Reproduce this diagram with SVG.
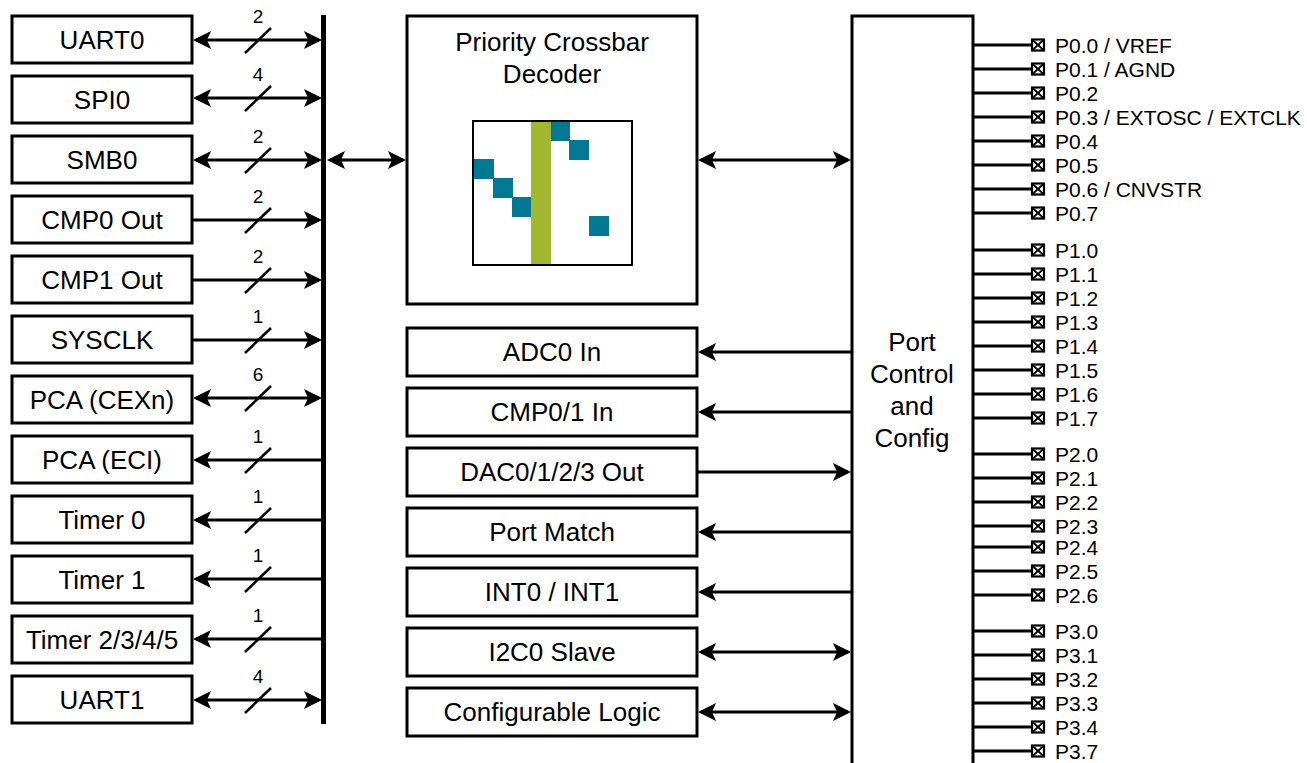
<svg xmlns="http://www.w3.org/2000/svg" width="1307" height="763" viewBox="0 0 1307 763">
<style>
.box{fill:#fff;stroke:#000;stroke-width:3}
.t{font-family:"Liberation Sans",Arial,sans-serif;font-size:26px;fill:#000;text-anchor:middle}
.n{font-family:"Liberation Sans",Arial,sans-serif;font-size:19px;fill:#000;text-anchor:middle}
.p{font-family:"Liberation Sans",Arial,sans-serif;font-size:21px;fill:#000}
.w{stroke:#000;stroke-width:3;fill:none}
.s{stroke:#000;stroke-width:2.5;fill:none}
.pin{fill:#fff;stroke:#000;stroke-width:2.2}
.px{stroke:#000;stroke-width:1.8}
.teal{fill:#017995}
</style>
<defs>
<marker id="ah" viewBox="0 0 18 18" refX="15" refY="9" markerWidth="18" markerHeight="18" markerUnits="userSpaceOnUse" orient="auto-start-reverse">
<path d="M0,0 L18,9 L0,18 L4,9 Z" fill="#000"/>
</marker>
<g id="pinsym">
<rect class="pin" x="0" y="-5.5" width="12" height="11"/>
<line class="px" x1="0" y1="-5.5" x2="12" y2="5.5"/>
<line class="px" x1="0" y1="5.5" x2="12" y2="-5.5"/>
</g>
</defs>

<!-- left peripheral nodes -->
<g id="uart0"><rect class="box" x="12" y="16" width="180" height="47"/><text class="t" x="102" y="49">UART0</text></g>
<g id="spi0"><rect class="box" x="12" y="76" width="180" height="47"/><text class="t" x="102" y="109">SPI0</text></g>
<g id="smb0"><rect class="box" x="12" y="136" width="180" height="47"/><text class="t" x="102" y="169">SMB0</text></g>
<g id="cmp0out"><rect class="box" x="12" y="196" width="180" height="47"/><text class="t" x="102" y="229">CMP0 Out</text></g>
<g id="cmp1out"><rect class="box" x="12" y="256" width="180" height="47"/><text class="t" x="102" y="289">CMP1 Out</text></g>
<g id="sysclk"><rect class="box" x="12" y="316" width="180" height="47"/><text class="t" x="102" y="349">SYSCLK</text></g>
<g id="pcacex"><rect class="box" x="12" y="376" width="180" height="47"/><text class="t" x="102" y="409">PCA (CEXn)</text></g>
<g id="pcaeci"><rect class="box" x="12" y="436" width="180" height="47"/><text class="t" x="102" y="469">PCA (ECI)</text></g>
<g id="timer0"><rect class="box" x="12" y="496" width="180" height="47"/><text class="t" x="102" y="529">Timer 0</text></g>
<g id="timer1"><rect class="box" x="12" y="556" width="180" height="47"/><text class="t" x="102" y="589">Timer 1</text></g>
<g id="timer2345"><rect class="box" x="12" y="616" width="180" height="47"/><text class="t" x="102" y="649">Timer 2/3/4/5</text></g>
<g id="uart1"><rect class="box" x="12" y="676" width="180" height="47"/><text class="t" x="102" y="709">UART1</text></g>

<!-- bus -->
<g id="bus"><line x1="323.5" y1="15" x2="323.5" y2="724" stroke="#000" stroke-width="5"/></g>

<!-- crossbar decoder -->
<g id="crossbar">
<rect class="box" x="407" y="16" width="290" height="288"/>
<text class="t" x="552" y="51">Priority Crossbar</text>
<text class="t" x="552" y="83">Decoder</text>
<rect x="473" y="121" width="159" height="144" fill="#fff"/>
<rect x="531" y="121" width="20" height="144" fill="#A2B830"/>
<rect class="teal" x="551" y="121" width="19" height="20"/>
<rect class="teal" x="569" y="140" width="20" height="20"/>
<rect class="teal" x="473" y="159" width="21" height="20"/>
<rect class="teal" x="493" y="178" width="20" height="20"/>
<rect class="teal" x="512" y="197" width="19" height="20"/>
<rect class="teal" x="589" y="216" width="20" height="20"/>
<rect x="473" y="121" width="159" height="144" fill="none" stroke="#000" stroke-width="2"/>
</g>

<!-- middle nodes -->
<g id="adc0in"><rect class="box" x="407" y="328" width="290" height="48"/><text class="t" x="552" y="361">ADC0 In</text></g>
<g id="cmp01in"><rect class="box" x="407" y="388" width="290" height="48"/><text class="t" x="552" y="421">CMP0/1 In</text></g>
<g id="dacout"><rect class="box" x="407" y="448" width="290" height="48"/><text class="t" x="552" y="481">DAC0/1/2/3 Out</text></g>
<g id="portmatch"><rect class="box" x="407" y="508" width="290" height="48"/><text class="t" x="552" y="541">Port Match</text></g>
<g id="int01"><rect class="box" x="407" y="568" width="290" height="48"/><text class="t" x="552" y="601">INT0 / INT1</text></g>
<g id="i2c0"><rect class="box" x="407" y="628" width="290" height="48"/><text class="t" x="552" y="661">I2C0 Slave</text></g>
<g id="clu"><rect class="box" x="407" y="688" width="290" height="48"/><text class="t" x="552" y="721">Configurable Logic</text></g>

<!-- port control -->
<g id="portctrl">
<rect class="box" x="852" y="16" width="121" height="770"/>
<text class="t" x="912" y="351">Port</text>
<text class="t" x="912" y="383">Control</text>
<text class="t" x="912" y="415">and</text>
<text class="t" x="912" y="447">Config</text>
</g>

<!-- connectors -->
<g id="connectors">
<line class="w" x1="196" y1="40" x2="319" y2="40" marker-start="url(#ah)" marker-end="url(#ah)"/>
<line class="w" x1="196" y1="98" x2="319" y2="98" marker-start="url(#ah)" marker-end="url(#ah)"/>
<line class="w" x1="196" y1="160" x2="319" y2="160" marker-start="url(#ah)" marker-end="url(#ah)"/>
<line class="w" x1="192" y1="220" x2="319" y2="220" marker-end="url(#ah)"/>
<line class="w" x1="192" y1="280" x2="319" y2="280" marker-end="url(#ah)"/>
<line class="w" x1="192" y1="340" x2="319" y2="340" marker-end="url(#ah)"/>
<line class="w" x1="196" y1="398" x2="319" y2="398" marker-start="url(#ah)" marker-end="url(#ah)"/>
<line class="w" x1="196" y1="460" x2="322" y2="460" marker-start="url(#ah)"/>
<line class="w" x1="196" y1="520" x2="322" y2="520" marker-start="url(#ah)"/>
<line class="w" x1="196" y1="579" x2="322" y2="579" marker-start="url(#ah)"/>
<line class="w" x1="196" y1="639" x2="322" y2="639" marker-start="url(#ah)"/>
<line class="w" x1="196" y1="700" x2="319" y2="700" marker-start="url(#ah)" marker-end="url(#ah)"/>
<line class="s" x1="245" y1="53" x2="271" y2="28"/>
<line class="s" x1="245" y1="111" x2="271" y2="86"/>
<line class="s" x1="245" y1="173" x2="271" y2="148"/>
<line class="s" x1="245" y1="233" x2="271" y2="208"/>
<line class="s" x1="245" y1="293" x2="271" y2="268"/>
<line class="s" x1="245" y1="353" x2="271" y2="328"/>
<line class="s" x1="245" y1="411" x2="271" y2="386"/>
<line class="s" x1="245" y1="473" x2="271" y2="448"/>
<line class="s" x1="245" y1="533" x2="271" y2="508"/>
<line class="s" x1="245" y1="592" x2="271" y2="567"/>
<line class="s" x1="245" y1="652" x2="271" y2="627"/>
<line class="s" x1="245" y1="713" x2="271" y2="688"/>
<text class="n" x="258" y="23">2</text>
<text class="n" x="258" y="81">4</text>
<text class="n" x="258" y="143">2</text>
<text class="n" x="258" y="203">2</text>
<text class="n" x="258" y="263">2</text>
<text class="n" x="258" y="323">1</text>
<text class="n" x="258" y="381">6</text>
<text class="n" x="258" y="443">1</text>
<text class="n" x="258" y="503">1</text>
<text class="n" x="258" y="562">1</text>
<text class="n" x="258" y="622">1</text>
<text class="n" x="258" y="683">4</text>
<line class="w" x1="330" y1="160" x2="403" y2="160" marker-start="url(#ah)" marker-end="url(#ah)"/>
<line class="w" x1="701" y1="160" x2="848" y2="160" marker-start="url(#ah)" marker-end="url(#ah)"/>
<line class="w" x1="852" y1="352" x2="701" y2="352" marker-end="url(#ah)"/>
<line class="w" x1="852" y1="412" x2="701" y2="412" marker-end="url(#ah)"/>
<line class="w" x1="697" y1="472" x2="848" y2="472" marker-end="url(#ah)"/>
<line class="w" x1="852" y1="532" x2="701" y2="532" marker-end="url(#ah)"/>
<line class="w" x1="852" y1="592" x2="701" y2="592" marker-end="url(#ah)"/>
<line class="w" x1="701" y1="652" x2="848" y2="652" marker-start="url(#ah)" marker-end="url(#ah)"/>
<line class="w" x1="701" y1="712" x2="848" y2="712" marker-start="url(#ah)" marker-end="url(#ah)"/>
<path class="w" d="M973,45H1032M973,69H1032M973,93H1032M973,117H1032M973,141H1032M973,165H1032M973,189H1032M973,213H1032M973,250H1032M973,274H1032M973,298H1032M973,322H1032M973,346H1032M973,370H1032M973,394H1032M973,418H1032M973,454H1032M973,478H1032M973,502H1032M973,526H1032M973,547H1032M973,571H1032M973,595H1032M973,631H1032M973,655H1032M973,679H1032M973,703H1032M973,727H1032M973,751H1032"/>
</g>

<!-- pin nodes -->
<g id="pins">
<g id="p00"><use href="#pinsym" x="1032" y="45"/><text class="p" x="1055" y="53">P0.0 / VREF</text></g>
<g id="p01"><use href="#pinsym" x="1032" y="69"/><text class="p" x="1055" y="77">P0.1 / AGND</text></g>
<g id="p02"><use href="#pinsym" x="1032" y="93"/><text class="p" x="1055" y="101">P0.2</text></g>
<g id="p03"><use href="#pinsym" x="1032" y="117"/><text class="p" x="1055" y="125">P0.3 / EXTOSC / EXTCLK</text></g>
<g id="p04"><use href="#pinsym" x="1032" y="141"/><text class="p" x="1055" y="149">P0.4</text></g>
<g id="p05"><use href="#pinsym" x="1032" y="165"/><text class="p" x="1055" y="173">P0.5</text></g>
<g id="p06"><use href="#pinsym" x="1032" y="189"/><text class="p" x="1055" y="197">P0.6 / CNVSTR</text></g>
<g id="p07"><use href="#pinsym" x="1032" y="213"/><text class="p" x="1055" y="221">P0.7</text></g>
<g id="p10"><use href="#pinsym" x="1032" y="250"/><text class="p" x="1055" y="258">P1.0</text></g>
<g id="p11"><use href="#pinsym" x="1032" y="274"/><text class="p" x="1055" y="282">P1.1</text></g>
<g id="p12"><use href="#pinsym" x="1032" y="298"/><text class="p" x="1055" y="306">P1.2</text></g>
<g id="p13"><use href="#pinsym" x="1032" y="322"/><text class="p" x="1055" y="330">P1.3</text></g>
<g id="p14"><use href="#pinsym" x="1032" y="346"/><text class="p" x="1055" y="354">P1.4</text></g>
<g id="p15"><use href="#pinsym" x="1032" y="370"/><text class="p" x="1055" y="378">P1.5</text></g>
<g id="p16"><use href="#pinsym" x="1032" y="394"/><text class="p" x="1055" y="402">P1.6</text></g>
<g id="p17"><use href="#pinsym" x="1032" y="418"/><text class="p" x="1055" y="426">P1.7</text></g>
<g id="p20"><use href="#pinsym" x="1032" y="454"/><text class="p" x="1055" y="462">P2.0</text></g>
<g id="p21"><use href="#pinsym" x="1032" y="478"/><text class="p" x="1055" y="486">P2.1</text></g>
<g id="p22"><use href="#pinsym" x="1032" y="502"/><text class="p" x="1055" y="510">P2.2</text></g>
<g id="p23"><use href="#pinsym" x="1032" y="526"/><text class="p" x="1055" y="534">P2.3</text></g>
<g id="p24"><use href="#pinsym" x="1032" y="547"/><text class="p" x="1055" y="555">P2.4</text></g>
<g id="p25"><use href="#pinsym" x="1032" y="571"/><text class="p" x="1055" y="579">P2.5</text></g>
<g id="p26"><use href="#pinsym" x="1032" y="595"/><text class="p" x="1055" y="603">P2.6</text></g>
<g id="p30"><use href="#pinsym" x="1032" y="631"/><text class="p" x="1055" y="639">P3.0</text></g>
<g id="p31"><use href="#pinsym" x="1032" y="655"/><text class="p" x="1055" y="663">P3.1</text></g>
<g id="p32"><use href="#pinsym" x="1032" y="679"/><text class="p" x="1055" y="687">P3.2</text></g>
<g id="p33"><use href="#pinsym" x="1032" y="703"/><text class="p" x="1055" y="711">P3.3</text></g>
<g id="p34"><use href="#pinsym" x="1032" y="727"/><text class="p" x="1055" y="735">P3.4</text></g>
<g id="p37"><use href="#pinsym" x="1032" y="751"/><text class="p" x="1055" y="759">P3.7</text></g>
</g>
</svg>
